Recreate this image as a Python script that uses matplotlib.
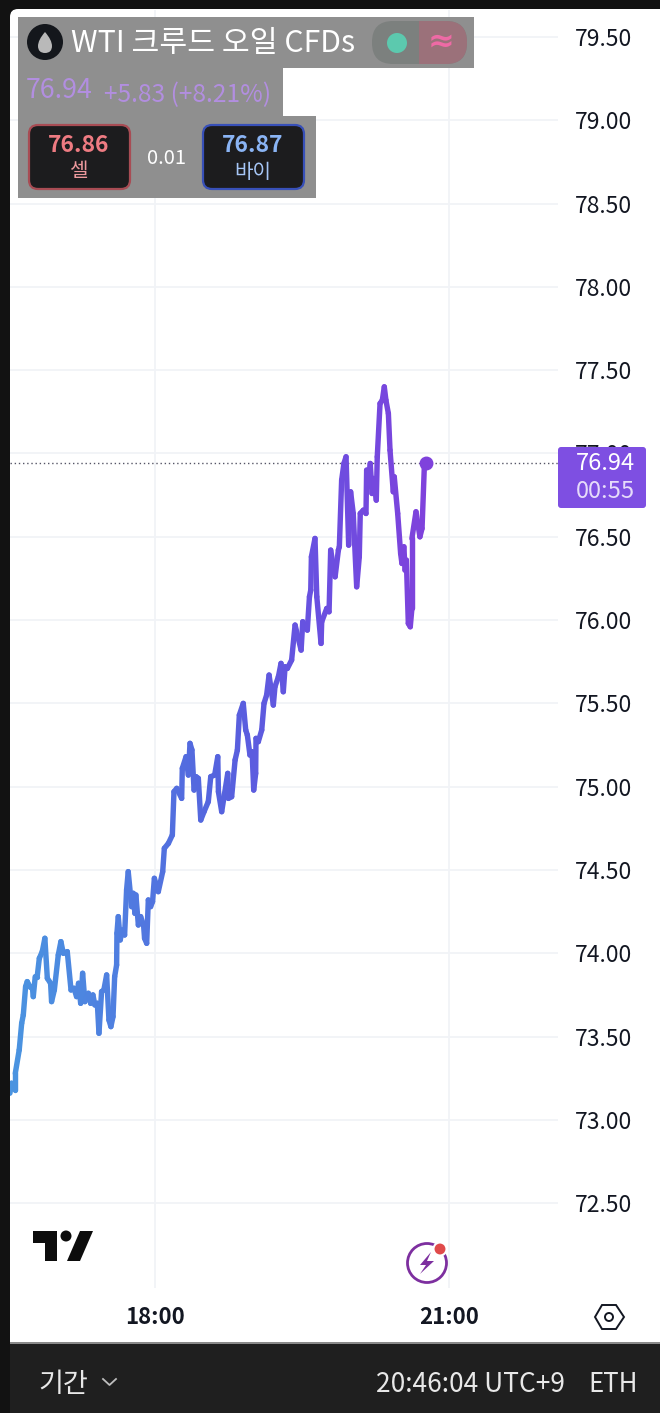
import numpy as np
import matplotlib
matplotlib.use('Agg')
import matplotlib.pyplot as plt
from matplotlib.collections import LineCollection
from matplotlib.colors import LinearSegmentedColormap
from matplotlib.patches import Circle, FancyBboxPatch, PathPatch, Polygon, Rectangle
from matplotlib.path import Path

plt.rcParams['font.family'] = ['Noto Sans CJK KR', 'DejaVu Sans']

# minutes since midnight, price
minutes = [991.2, 992.2, 994.5, 994.5, 996.9, 998.4, 999.4, 1000.8, 1001.8, 1003.5, 1004.9, 1005.5,
           1006.7, 1007.9, 1009.2, 1011, 1012.6, 1014.1, 1016.1, 1016.7, 1018.4, 1020.8, 1022.4, 1023.9,
           1026.3, 1028.6, 1030.4, 1032, 1033.2, 1034.5, 1035.7, 1037.1, 1039.2, 1040.6, 1042, 1043.2,
           1044.7, 1045.7, 1047.3, 1048.7, 1050.4, 1051.8, 1053, 1054.3, 1055.3, 1056.5, 1056.7, 1057.5,
           1058.7, 1060, 1061.4, 1062.6, 1063.6, 1065.7, 1066.7, 1067.7, 1068.3, 1069.8, 1071.2, 1073,
           1073.6, 1074.9, 1075.9, 1077.3, 1078.5, 1079.6, 1082, 1084.7,
           1085.7, 1088.2, 1090.6, 1091.6, 1093.3, 1096.3, 1096.7, 1099, 1100.4, 1101.4, 1102.6, 1103.9,
           1105.1, 1106.5, 1108, 1110, 1112.6, 1114.1, 1116.5, 1118.4, 1118.8, 1120.8, 1124.5, 1124.9,
           1126.9, 1129, 1130.4, 1131.6, 1134, 1135.5, 1136.5, 1138.1, 1139.4, 1140.4, 1141.6, 1141.8,
           1143.2, 1145.3, 1146.7, 1148.3, 1149.8, 1152.4, 1153.4, 1155.5, 1157.1, 1158.5, 1159.6, 1161,
           1163.6, 1165.7, 1169.4, 1170.4, 1173.2, 1174.5, 1175.3, 1175.7, 1177.9, 1179, 1181.6, 1182,
           1185.1, 1186.5, 1187.5, 1190.2, 1192.2,
           1192.8, 1194.2, 1195.6, 1196.9, 1198.5, 1199.7, 1201.3, 1203.4, 1205, 1205.6, 1207.5, 1209.1,
           1209.5, 1210.5, 1211.7, 1212.8, 1213.8, 1215.4, 1216, 1217.7, 1219.1, 1220.3, 1221.3, 1222.8,
           1223.8, 1225.8, 1226.4, 1228.5, 1230.3, 1231.1, 1232.3, 1233, 1233.8, 1235, 1236.2, 1237.2,
           1237.2, 1239.7, 1242.1, 1243.4, 1244.8, 1246]
prices = [73.16, 73.22, 73.18, 73.28, 73.42, 73.58, 73.63, 73.80, 73.83, 73.80, 73.80, 73.74,
          73.86, 73.86, 73.97, 74.01, 74.09, 73.85, 73.82, 73.71, 73.78, 73.99, 74.07, 74.00,
          74.01, 73.78, 73.79, 73.74, 73.82, 73.70, 73.88, 73.71, 73.76, 73.70, 73.75, 73.69,
          73.70, 73.52, 73.77, 73.78, 73.87, 73.60, 73.56, 73.62, 73.86, 73.93, 74.12, 74.22,
          74.08, 74.14, 74.11, 74.38, 74.49, 74.28, 74.36, 74.24, 74.35, 74.17, 74.22, 74.17,
          74.09, 74.06, 74.32, 74.28, 74.31, 74.45, 74.37, 74.49,
          74.63, 74.66, 74.71, 74.97, 74.99, 74.93, 75.11, 75.18, 75.07, 75.26, 75.22, 74.98,
          75.06, 75.05, 74.80, 74.85, 74.91, 75.06, 75.07, 75.18, 74.97, 74.85, 75.08, 74.93,
          74.94, 75.16, 75.22, 75.43, 75.50, 75.34, 75.31, 75.19, 75.21, 74.98, 75.08, 75.29,
          75.27, 75.34, 75.50, 75.55, 75.67, 75.49, 75.60, 75.66, 75.74, 75.57, 75.72, 75.71,
          75.76, 75.97, 75.82, 75.99, 75.94, 76.14, 76.18, 76.38, 76.49, 76.14, 75.86, 75.99,
          76.07, 76.05, 76.42, 76.26, 76.42,
          76.44, 76.84, 76.94, 76.98, 76.45, 76.77, 76.64, 76.20, 76.38, 76.64, 76.66, 76.64,
          76.90, 76.82, 76.94, 76.76, 76.85, 76.72, 76.98, 77.30, 77.32, 77.40, 77.32, 77.24,
          77.02, 76.77, 76.86, 76.64, 76.40, 76.34, 76.44, 76.30, 76.36, 75.98, 75.96, 76.07,
          76.49, 76.65, 76.50, 76.55, 76.92, 76.94]

price_ticks = [72.5, 73.0, 73.5, 74.0, 74.5, 75.0, 75.5, 76.0, 76.5, 77.0, 77.5, 78.0, 78.5, 79.0, 79.5]
time_ticks = [1080, 1260]
time_labels = ['18:00', '21:00']
last_price = 76.94

W, H = 660, 1413
fig = plt.figure(figsize=(W / 100, H / 100), dpi=100, facecolor='#121212')


def px_axes(x0, y0, x1, y1, z):
    return fig.add_axes([x0 / W, 1 - y1 / H, (x1 - x0) / W, (y1 - y0) / H], zorder=z)


# background panels, pixel coords
bg = px_axes(0, 0, W, H, 0)
bg.set_xlim(0, W)
bg.set_ylim(H, 0)
bg.axis('off')
bg.add_patch(FancyBboxPatch((10, 9), 700, 1345, boxstyle='round,pad=0,rounding_size=8',
                            fc='white', ec='none'))
bg.add_patch(Rectangle((10, 1344), 650, 69, fc='#1f1f1f', ec='none', zorder=3))
bg.add_patch(Rectangle((10, 1342), 650, 2, fc='#8a8a8a', ec='none', zorder=3))

# chart
ax = px_axes(10, 10, 558, 1288, 1)
ax.patch.set_alpha(0)
ax.set_xlim(991.26, 1326.6)
ax.set_ylim(71.991, 79.662)
for s in ax.spines.values():
    s.set_visible(False)
ax.yaxis.tick_right()
ax.set_yticks(price_ticks)
ax.set_yticklabels(['%.2f' % p for p in price_ticks], fontsize=16.5, color='#131722')
ax.set_xticks(time_ticks)
ax.set_xticklabels(time_labels, fontsize=16, fontweight='bold', color='#131722')
ax.tick_params(axis='y', length=0, pad=12)
ax.tick_params(axis='x', length=0, pad=13)
ax.grid(True, color='#f1f3f7', lw=1.3)
ax.set_axisbelow(True)

t = np.array(minutes)
p = np.array(prices)
points = np.column_stack([t, p]).reshape(-1, 1, 2)
segs = np.concatenate([points[:-1], points[1:]], axis=1)
cmap = LinearSegmentedColormap.from_list('line', ['#4a94e0', '#4f7fe0', '#5563de', '#6a4fe0', '#7f42dc'])
lc = LineCollection(segs, cmap=cmap, linewidths=3.9, capstyle='round', joinstyle='round', zorder=3)
lc.set_array((t[:-1] - t[0]) / (t[-1] - t[0]))
ax.add_collection(lc)
ax.axhline(last_price, color='#555566', lw=1, ls=(0, (1, 2)), zorder=2)
ax.plot([t[-1]], [last_price], 'o', ms=9, color='#7f42dc', zorder=4)

# overlay widgets, pixel coords
ov = px_axes(0, 0, W, H, 2)
ov.patch.set_alpha(0)
ov.set_xlim(0, W)
ov.set_ylim(H, 0)
ov.axis('off')

for x0, y0, x1, y1 in [(18, 17, 474, 68), (18, 68, 283, 116), (18, 116, 316, 198)]:
    ov.add_patch(Rectangle((x0, y0), x1 - x0, y1 - y0, fc='#8f8f8f', ec='none'))

# symbol icon
ov.add_patch(Circle((45, 42), 18, fc='#14171c', ec='none'))
drop = Path([(45, 32), (38, 40), (38, 46), (38, 53), (45, 53), (52, 53), (52, 46), (52, 40), (45, 32)],
            [Path.MOVETO] + [Path.CURVE3] * 8)
ov.add_patch(PathPatch(drop, fc='#b9b9b9', ec='none'))
ov.text(71, 44, 'WTI 크루드 오일 CFDs', color='white', fontsize=21.8, va='center', ha='left')

# status pill
ov.add_patch(FancyBboxPatch((372, 21), 95, 43, boxstyle='round,pad=0,rounding_size=21',
                            fc='#7c807e', ec='none'))
right = FancyBboxPatch((372, 21), 95, 43, boxstyle='round,pad=0,rounding_size=21', fc='#9b717a', ec='none')
ov.add_patch(right)
right.set_clip_path(Rectangle((419, 0), 60, 80, transform=ov.transData))
ov.add_patch(Circle((397, 43), 10, fc='#5cc9ae', ec='none'))
ov.text(441, 42, '≈', color='#ee6aa5', fontsize=23, ha='center', va='center', family=['DejaVu Sans'], fontweight='bold')

ov.text(26, 90, '76.94', color='#b28ee0', fontsize=19.3, va='center', ha='left')
ov.text(104, 95, '+5.83 (+8.21%)', color='#b28ee0', fontsize=17.7, va='center', ha='left')

# sell / buy buttons
ov.add_patch(FancyBboxPatch((29, 125), 101, 64, boxstyle='round,pad=0,rounding_size=9',
                            fc='#1c1c1e', ec='#a84c54', lw=1.6))
ov.add_patch(FancyBboxPatch((203, 125), 101, 64, boxstyle='round,pad=0,rounding_size=9',
                            fc='#1c1c1e', ec='#3850b8', lw=1.6))
ov.text(79, 145, '76.86', color='#ee7b82', fontsize=16.5, fontweight='bold', ha='center', va='center')
ov.text(79, 172, '셀', color='#ee9a9e', fontsize=14.5, ha='center', va='center')
ov.text(253, 145, '76.87', color='#8ab4f4', fontsize=16.5, fontweight='bold', ha='center', va='center')
ov.text(253, 172, '바이', color='#a6c6f6', fontsize=14.5, ha='center', va='center')
ov.text(166, 158, '0.01', color='white', fontsize=14.5, ha='center', va='center')

# last price tag
ov.add_patch(FancyBboxPatch((558, 447), 88, 61, boxstyle='round,pad=0,rounding_size=3',
                            fc='#7e4fe2', ec='none'))
ov.text(605, 464, '76.94', color='white', fontsize=17, ha='center', va='center')
ov.text(605, 492, '00:55', color='#e6dbfa', fontsize=17, ha='center', va='center')

# tradingview logo
ov.add_patch(Polygon([(33, 1231), (57, 1231), (57, 1261), (45, 1261), (45, 1243), (33, 1243)],
                     fc='#0c0c0c', ec='none'))
ov.add_patch(Circle((66, 1236), 5.5, fc='#0c0c0c', ec='none'))
ov.add_patch(Polygon([(80, 1231), (93, 1231), (80, 1261), (67, 1261)], fc='#0c0c0c', ec='none'))

# lightning badge
ov.add_patch(Circle((427, 1263), 19.5, fc='none', ec='#7d2f9f', lw=2))
ov.add_patch(Polygon([(431, 1252), (420, 1265), (426, 1265), (420, 1274), (434, 1261), (427, 1261)],
                     fc='#7d2f9f', ec='none'))
ov.add_patch(Circle((440, 1249), 6.5, fc='#e04a4a', ec='white', lw=1.5))

# settings hexagon
ov.add_patch(Polygon([(595, 1317), (602, 1305), (616, 1305), (624, 1317), (616, 1329), (602, 1329)],
                     fc='none', ec='#131722', lw=1.4))
ov.add_patch(Circle((609, 1317), 4, fc='none', ec='#131722', lw=1.4))

# bottom bar
ov.text(38, 1384, '기간', color='#e8e8e8', fontsize=19.5, ha='left', va='center')
ov.plot([103, 109.5, 116], [1379, 1385, 1379], color='#bdbdbd', lw=1.3)
ov.text(565, 1384, '20:46:04 UTC+9', color='#e8e8e8', fontsize=19, ha='right', va='center')
ov.text(638, 1384, 'ETH', color='#e8e8e8', fontsize=18.6, ha='right', va='center')

fig.savefig('out.png', dpi=100, facecolor=fig.get_facecolor())
